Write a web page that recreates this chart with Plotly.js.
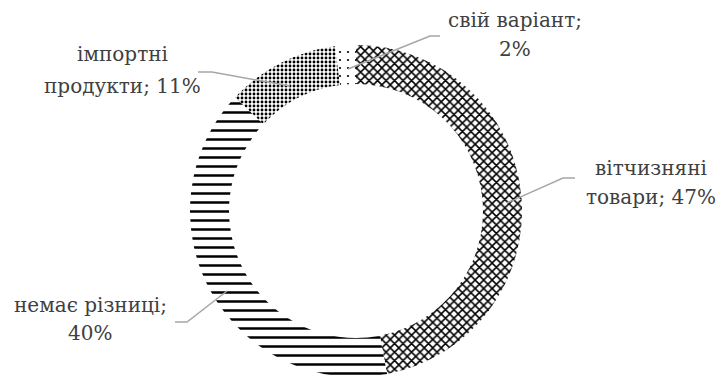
<!DOCTYPE html>
<html>
<head>
<meta charset="utf-8">
<script src="https://cdn.plot.ly/plotly-3.0.1.min.js"></script>
<style>html,body{margin:0;padding:0;background:#fff;}#chart{width:721px;height:381px;}</style>
</head>
<body>
<div id="chart"></div>
<script>
// Data
const categories = ["вітчизняні товари", "немає різниці", "імпортні продукти", "свій варіант"];
const values = [47, 40, 11, 2];
const labelLines = [
  ["вітчизняні", "товари; 47%"],
  ["немає різниці;", "40%"],
  ["імпортні", "продукти; 11%"],
  ["свій варіант;", "2%"]
];

// Layout helpers (pixel -> paper)
const W = 721, H = 381;
const px = x => x / W;
const py = y => 1 - y / H;

const cx = 356, cy = 211, R = 166;

const labelPos = [
  {x: 651, y1: 168, y2: 197, line: [[575,178],[563,178],[507,203]]},
  {x: 90,  y1: 305, y2: 333, line: [[175,322],[187,322],[227,291]]},
  {x: 122, y1: 54,  y2: 86,  line: [[198,72],[212,72],[290,86]]},
  {x: 515, y1: 20,  y2: 49,  line: [[440,36],[430,36],[348,69]]}
];

const trace = {
  type: "pie",
  labels: categories,
  values: values,
  sort: false,
  direction: "clockwise",
  rotation: 0,
  hole: 0.765,
  textinfo: "none",
  hoverinfo: "label+percent",
  domain: {x: [px(cx - R), px(cx + R)], y: [py(cy + R), py(cy - R)]},
  marker: {
    colors: ["#ffffff", "#ffffff", "#ffffff", "#ffffff"],
    line: {width: 0},
    pattern: {
      shape: ["x", "-", ".", "."],
      size: [6, 9, 4, 8],
      solidity: [0.45, 0.28, 0.4, 0.06],
      fgcolor: "#000000",
      fgopacity: 1,
      bgcolor: "#ffffff",
      fillmode: "replace"
    }
  },
  showlegend: false
};

const annotations = [];
const shapes = [];
const font = {family: "DejaVu Serif", size: 20, color: "#404040"};
labelPos.forEach((p, i) => {
  annotations.push({x: px(p.x), y: py(p.y1), xref: "paper", yref: "paper", text: labelLines[i][0],
    showarrow: false, xanchor: "center", yanchor: "middle", font: font});
  annotations.push({x: px(p.x), y: py(p.y2), xref: "paper", yref: "paper", text: labelLines[i][1],
    showarrow: false, xanchor: "center", yanchor: "middle", font: font});
  const pts = p.line.map(q => px(q[0]) + "," + py(q[1]));
  shapes.push({type: "path", xref: "paper", yref: "paper",
    path: "M" + pts[0] + " L" + pts[1] + " L" + pts[2],
    line: {color: "#a6a6a6", width: 1.5}});
});

const layout = {
  width: W, height: H,
  margin: {l: 0, r: 0, t: 0, b: 0},
  paper_bgcolor: "#ffffff",
  plot_bgcolor: "#ffffff",
  annotations: annotations,
  shapes: shapes,
  showlegend: false
};

Plotly.newPlot("chart", [trace], layout, {displayModeBar: false, staticPlot: true});
</script>
</body>
</html>
